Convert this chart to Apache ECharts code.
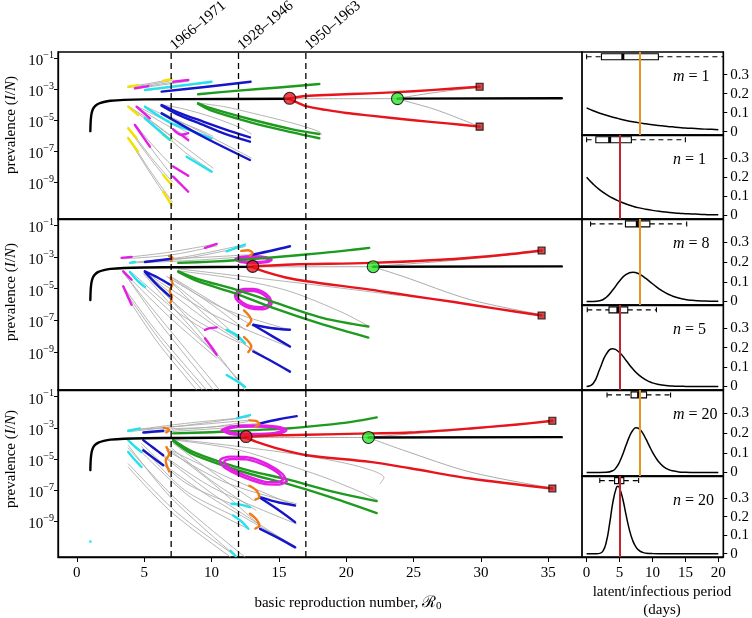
<!DOCTYPE html>
<html><head><meta charset="utf-8">
<script src="https://cdn.jsdelivr.net/npm/echarts@6/dist/echarts.min.js"></script>
<style>html,body{margin:0;padding:0;background:#fff}#c{width:752px;height:618px}</style>
</head><body><div id="c"></div>
<script>
// ---------- tick labels / categories ----------
const R0_TICKS = [0,5,10,15,20,25,30,35];
const PREV_TICKS = [-1,-3,-5,-7,-9];
const DAY_TICKS = [0,5,10,15,20];
const DENS_TICKS = [0,0.1,0.2,0.3];
const PERIOD_LABELS = ['1966–1971','1928–1946','1950–1963'];
const PERIOD_R0 = [7,12,17];
const PANEL_LABELS = [['m','1'],['n','1'],['m','8'],['n','5'],['m','20'],['n','20']];
const MEAN_LATENT = 8, MEAN_INFECT = 5;

// ---------- equilibrium (black) rise, [R0, log10 prevalence] ----------
const blackRise = [[1.0,-5.72],[1.02,-5.2],[1.05,-4.85],[1.1,-4.55],[1.2,-4.28],[1.35,-4.1],[1.6,-3.95],[2.0,-3.84],[2.5,-3.76],[3.5,-3.7],[5,-3.67],[8,-3.65]];

// ---------- panel 1 (top) ----------
const p1Hopf = [[15.8,-3.6]], p1Fold = [[23.8,-3.62]], p1Ends = [[29.9,-2.85],[29.9,-5.43]];
const p1BlackLow = blackRise.concat([[15.8,-3.63]]);
const p1BlackHigh = [[23.8,-3.62],[36.0,-3.6]];
const p1Unstable = [[15.8,-3.63],[23.8,-3.62]];
const p1Red = [
 [[15.8,-3.6],[17,-3.45],[19,-3.37],[21.8,-3.28],[25,-3.14],[27.5,-3.0],[29.9,-2.85]],
 [[15.8,-3.65],[16.3,-3.85],[17.06,-4.12],[18.5,-4.35],[20,-4.55],[21.8,-4.72],[25,-5.02],[27.5,-5.22],[29.9,-5.43]]];
const p1FoldGrey = [
 [[23.8,-3.6],[26,-3.3],[28,-3.07],[29.9,-2.88]],
 [[23.8,-3.63],[24.5,-3.8],[26.7,-4.35],[29.9,-5.43]]];
const p1Yellow = [
 [[3.81,-2.85],[4.55,-2.76]],[[6.41,-2.46],[7.03,-2.37]],
 [[3.81,-4.14],[4.55,-4.68]],[[6.41,-5.97],[7.03,-6.29]],
 [[3.81,-5.54],[4.43,-6.18]],[[6.41,-8.55],[7.03,-9.19]],
 [[3.81,-6.18],[4.55,-7.05]],[[6.41,-9.63],[7.03,-10.48]]];
const p1Magenta = [
 [[4.31,-2.95],[5.3,-2.81]],[[7.15,-2.53],[8.27,-2.42]],
 [[4.43,-4.14],[5.42,-4.89]],
 [[7.15,-5.6],[7.75,-5.95],[8.27,-5.85]],[[7.75,-5.95],[8.27,-6.3]],
 [[4.31,-5.32],[5.42,-6.72]],
 [[7.15,-8.0],[8.27,-8.6]],[[7.15,-8.66],[8.27,-9.63]]];
const p1Cyan = [
 [[5.05,-3.06],[7.5,-2.8],[10.0,-2.53]],
 [[5.05,-4.14],[6.9,-5.15],[8.5,-5.7],[10.0,-6.18]],
 [[5.05,-4.89],[6.91,-6.29]],
 [[8.15,-7.37],[10.0,-8.34]]];
const p1Blue = [
 [[6.29,-3.17],[9.5,-2.87],[12.9,-2.53]],
 [[6.29,-4.03],[7.5,-4.5],[9.38,-5.1],[11,-5.6],[12.85,-6.12]],
 [[6.29,-4.08],[7.5,-4.65],[9.38,-5.32],[11,-5.9],[12.85,-6.4]],
 [[6.29,-4.57],[9.38,-6.08],[12.85,-7.58]]];
const p1Green = [
 [[9.0,-3.34],[12,-3.1],[15,-2.9],[18.0,-2.68]],
 [[9.0,-3.92],[10,-4.25],[13.1,-5.0],[16,-5.6],[18,-5.9]],
 [[9.0,-3.95],[10,-4.4],[13.1,-5.2],[16,-5.8],[18,-6.18]]];
const p1Grey = [
 [[3.81,-2.85],[5.5,-2.62],[7.03,-2.37]],[[3.81,-2.9],[5.5,-2.7],[7.03,-2.45]],
 [[4.31,-2.95],[6.2,-2.68],[8.27,-2.42]],[[4.31,-3.0],[6.2,-2.75],[8.27,-2.5]],
 [[5.05,-3.1],[7.5,-2.85],[10.0,-2.58]],
 [[3.81,-4.14],[5.5,-5.2],[7.03,-6.29]],[[3.81,-4.1],[5.5,-5.05],[7.1,-6.1]],
 [[3.81,-5.54],[5.5,-7.55],[7.03,-9.19]],[[3.81,-5.45],[5.5,-7.4],[7.1,-9.0]],
 [[3.81,-6.18],[5.5,-8.5],[7.03,-10.48]],[[3.81,-6.1],[5.5,-8.35],[7.1,-10.3]],
 [[4.43,-4.14],[6,-5.0],[8.27,-6.1]],[[4.43,-4.1],[6.5,-5.0],[8.3,-5.85]],
 [[4.31,-5.25],[5.5,-6.5],[7.15,-8.0],[8.27,-8.6]],[[4.31,-5.35],[5.42,-6.72],[7.15,-8.66],[8.27,-9.63]],
 [[5.05,-4.1],[7,-4.9],[9,-5.6],[10.1,-6.05]],
 [[5.05,-4.85],[7,-6.3],[8.2,-7.2],[10.05,-8.3]],[[5.05,-4.8],[7.2,-6.2],[10.1,-8.1]],
 [[6.29,-4.0],[8,-4.3],[10,-4.8],[12,-5.45],[12.95,-5.9]],
 [[6.29,-4.5],[9.4,-5.85],[12.95,-7.45]],
 [[9.0,-3.9],[11,-4.15],[13.1,-4.57],[16,-5.2],[18,-5.75],[18.15,-5.95]]];

// ---------- panel 2 (middle) ----------
const p2Hopf = [[13.05,-3.6]], p2Fold = [[22.0,-3.62]], p2Ends = [[34.5,-2.6],[34.5,-6.7]];
const p2BlackLow = blackRise.concat([[13.05,-3.63]]);
const p2BlackHigh = [[22.0,-3.62],[36.0,-3.6]];
const p2Unstable = [[13.05,-3.63],[22.0,-3.62]];
const p2Red = [
 [[13.05,-3.6],[16,-3.48],[21.8,-3.38],[28,-3.13],[31.7,-2.87],[34.5,-2.6]],
 [[13.05,-3.65],[14,-3.95],[15.5,-4.3],[17.06,-4.54],[21.77,-5.07],[24.74,-5.45],[28,-5.85],[31,-6.25],[34.5,-6.7]]];
const p2FoldGrey = [
 [[22.0,-3.6],[28,-3.22],[34.5,-2.65]],
 [[22.0,-3.63],[24.2,-4.23],[29.2,-5.7],[34.5,-6.65]]];
const p2Magenta = [
 [[3.32,-3.06],[4.06,-3.0]],[[9.51,-2.43],[10.38,-2.18]],
 [[11.74,-3.17],[12.1,-3.02],[13.1,-2.96],[14.1,-3.03],[14.46,-3.18],[14.1,-3.33],[13.1,-3.39],[12.1,-3.31],[11.74,-3.17]],
 [[11.9,-3.17],[12.2,-3.07],[13.1,-3.03],[14.0,-3.09],[14.3,-3.18],[14.0,-3.28],[13.1,-3.32],[12.2,-3.26],[11.9,-3.17]],
 [[3.44,-3.91],[4.06,-4.44]],[[3.44,-4.86],[4.06,-6.02]],
 [[14.46,-5.95],[14.3,-5.55],[13.8,-5.2],[13.1,-5.03],[12.4,-5.03],[11.9,-5.2],[11.74,-5.45],[11.95,-5.8],[12.5,-6.12],[13.1,-6.28],[13.8,-6.3],[14.3,-6.15],[14.46,-5.95]],
 [[14.3,-5.9],[14.1,-5.55],[13.7,-5.3],[13.1,-5.15],[12.5,-5.15],[12.05,-5.28],[11.9,-5.47],[12.1,-5.75],[12.6,-6.03],[13.1,-6.15],[13.7,-6.17],[14.15,-6.05],[14.3,-5.9]],
 [[9.51,-7.6],[9.9,-7.5],[10.38,-7.45]],[[9.51,-8.13],[10.0,-8.7],[10.38,-9.18]]];
const p2Cyan = [
 [[3.94,-3.38],[4.31,-3.32]],[[11.12,-2.65],[12.48,-2.22]],
 [[3.94,-3.95],[4.5,-4.5],[5.05,-4.9]],
 [[11.12,-7.6],[11.8,-7.9],[12.48,-8.44]],
 [[11.12,-10.45],[11.8,-10.8],[12.48,-11.2]]];
const p2Blue = [
 [[5.05,-3.32],[6.91,-3.13]],[[13.1,-2.85],[14.5,-2.6],[15.82,-2.33]],
 [[5.05,-3.91],[6,-4.3],[6.91,-4.75]],[[5.05,-3.95],[6,-4.8],[6.91,-5.49]],
 [[13.1,-7.28],[14.5,-7.5],[15.82,-7.6]],[[13.1,-7.3],[14.5,-8.0],[15.82,-8.66]],
 [[13.1,-8.97],[14.5,-9.6],[15.82,-10.24]]];
const p2Orange = [
 [[6.85,-2.95],[7.1,-3.05],[7.0,-3.25]],
 [[12.2,-2.62],[12.7,-2.58],[13.05,-2.75],[12.85,-2.92]],
 [[6.95,-4.3],[7.1,-4.7],[6.9,-5.15],[7.05,-5.55],[6.95,-5.9]],
 [[12.41,-6.38],[12.95,-7.0],[12.65,-7.35]],
 [[12.41,-8.06],[12.95,-8.65],[12.73,-9.0]]];
const p2Green = [
 [[7.53,-3.38],[10,-3.3],[12,-3.2],[14.46,-3.04],[18.3,-2.75],[20.5,-2.55],[21.7,-2.43]],
 [[7.53,-3.91],[9,-4.4],[11.74,-5.05],[14.46,-5.81],[18.3,-6.86],[21.64,-7.39]],
 [[7.53,-3.95],[9,-4.55],[11.74,-5.3],[14.46,-6.19],[18.3,-7.28],[21.64,-8.09]]];
const p2Grey = [
 [[3.32,-3.06],[6.5,-2.75],[10.38,-2.18]],[[3.4,-3.12],[7,-2.88],[10.4,-2.3]],
 [[3.94,-3.35],[8,-3.0],[12.48,-2.22]],[[4.0,-3.4],[8,-3.1],[12.5,-2.35]],
 [[6.91,-3.13],[10,-3.0],[13.1,-2.85]],[[5.0,-3.36],[9,-3.2],[13.1,-2.95]],
 [[3.42,-3.9],[6,-7],[10.13,-11.4]],[[3.44,-4.0],[6.5,-7.2],[10.6,-11.4]],
 [[3.44,-4.86],[6,-7.8],[9.63,-11.4]],[[3.69,-5.49],[6,-8.4],[8.89,-11.4]],
 [[3.6,-5.2],[6.3,-8.4],[9.3,-11.4]],
 [[4.0,-4.1],[7,-6.5],[10.38,-9.18]],[[4.0,-4.4],[7,-6.9],[10.4,-9.4]],
 [[4.1,-4.0],[7.5,-6.5],[9.5,-7.6]],
 [[4.93,-4.05],[8,-7],[12.48,-11.2]],[[5.05,-4.01],[9,-7.6],[12.48,-11.4]],
 [[5.05,-4.1],[8.5,-6.8],[12.1,-8.44]],
 [[5.05,-4.0],[10,-7.2],[15.82,-10.24]],[[5.05,-3.95],[10,-6.6],[15.82,-8.7]],
 [[6.66,-4.23],[11,-6.3],[15.82,-7.6]],
 [[6.9,-4.2],[10,-5.8],[13.1,-7.39]],[[6.9,-4.5],[10,-6.6],[13.1,-9.0]],
 [[7.0,-4.3],[10,-6.0],[12.5,-7.6]],[[7.0,-4.6],[10,-7.0],[12.5,-8.4]],
 [[7.53,-3.88],[10,-4.15],[12.1,-4.44],[15.82,-5.18],[19.54,-6.44],[21.3,-7.2],[21.7,-7.4]],
 [[7.53,-3.75],[12,-4.2],[17,-4.7],[22.5,-5.28],[24,-5.45]]];

// ---------- panel 3 (bottom) ----------
const p3Hopf = [[12.56,-3.56]], p3Fold = [[21.65,-3.62]], p3Ends = [[35.3,-2.55],[35.3,-6.9]];
const p3BlackLow = blackRise.concat([[12.56,-3.63]]);
const p3BlackHigh = [[21.65,-3.62],[36.0,-3.6]];
const p3Unstable = [[12.56,-3.63],[21.65,-3.62]];
const p3Red = [
 [[12.56,-3.58],[15,-3.48],[17.06,-3.45],[21.77,-3.36],[24.74,-3.3],[29.2,-3.04],[32.5,-2.8],[35.3,-2.55]],
 [[12.56,-3.65],[13.5,-3.95],[15,-4.35],[17.06,-4.76],[21.77,-5.19],[24.74,-5.6],[29.2,-6.26],[35.3,-6.9]]];
const p3FoldGrey = [
 [[21.65,-3.6],[28,-3.17],[35.3,-2.6]],
 [[21.65,-3.63],[24.24,-4.44],[29.2,-5.84],[35.3,-6.88]]];
const p3Cyan = [
 [[3.81,-3.19],[4.68,-3.04]],[[11.86,-2.39],[12.85,-2.18]],
 [[3.81,-3.79],[4.3,-4.2],[4.8,-4.55]],[[3.81,-4.55],[4.3,-5.05],[4.8,-5.52]],
 [[11.49,-7.88],[12.2,-7.95],[12.85,-8.1]],[[11.6,-8.63],[12.2,-9.0],[12.73,-9.49]],
 [[11.4,-10.9],[11.8,-11.25]]];
const p3CyanDot = [[1.0,-10.3]];
const p3Blue = [
 [[4.93,-3.3],[6.41,-3.19]],[[13.6,-2.72],[15,-2.45],[16.32,-2.25]],
 [[4.93,-3.79],[5.7,-4.3],[6.41,-4.76]],[[4.93,-4.44],[5.7,-4.95],[6.41,-5.41]],
 [[13.6,-7.45],[15,-7.8],[16.2,-7.99]],[[13.6,-7.5],[15,-8.3],[16.2,-9.06]],
 [[13.6,-9.49],[15,-10.1],[16.2,-10.68]]];
const p3Orange = [
 [[6.45,-3.0],[6.85,-3.1],[6.65,-3.3]],
 [[12.8,-2.52],[13.3,-2.56],[13.55,-2.75],[13.25,-2.92]],
 [[6.65,-4.23],[6.85,-4.7],[6.6,-5.1],[6.85,-5.8]],
 [[12.8,-6.72],[13.3,-7.0],[13.55,-7.45],[13.25,-7.62]],
 [[12.85,-8.52],[13.35,-8.9],[13.55,-9.3],[13.25,-9.47]]];
const p3Green = [
 [[7.15,-3.36],[10,-3.28],[13,-3.15],[15.58,-3.04],[18.3,-2.83],[20.5,-2.6],[22.26,-2.33]],
 [[7.15,-3.79],[8.5,-4.5],[10.62,-5.19],[13,-5.8],[15.58,-6.3],[19,-7.1],[22.26,-7.71]],
 [[7.15,-3.85],[8.5,-4.65],[10.62,-5.35],[13,-6.0],[15.58,-6.59],[19,-7.5],[22.26,-8.48]]];
const p3Magenta = [
 [[10.75,-3.15],[11.4,-2.93],[13.15,-2.85],[14.9,-2.93],[15.55,-3.15],[14.9,-3.4],[13.15,-3.47],[11.4,-3.4],[10.75,-3.15]],
 [[11.0,-3.15],[11.6,-2.98],[13.15,-2.92],[14.7,-2.98],[15.3,-3.15],[14.7,-3.33],[13.15,-3.4],[11.6,-3.33],[11.0,-3.15]],
 [[15.58,-6.45],[15.3,-6.0],[14.6,-5.55],[13.7,-5.15],[12.6,-4.88],[11.4,-4.85],[10.62,-5.1],[10.9,-5.5],[11.8,-5.95],[12.9,-6.35],[14.0,-6.62],[15.0,-6.65],[15.58,-6.45]],
 [[15.3,-6.35],[15.05,-6.0],[14.45,-5.62],[13.6,-5.28],[12.6,-5.03],[11.5,-5.0],[10.95,-5.15],[11.2,-5.5],[12.0,-5.88],[13.0,-6.22],[14.0,-6.47],[14.9,-6.5],[15.3,-6.35]]];
const p3Grey = [
 [[3.81,-3.19],[8,-2.72],[11.86,-2.39]],[[3.81,-3.25],[8,-2.85],[12.8,-2.3]],
 [[4.7,-3.1],[9,-2.8],[12.85,-2.5]],[[6.41,-3.19],[10,-2.95],[13.6,-2.72]],
 [[5.0,-3.35],[9.5,-3.1],[13.6,-2.85]],[[7,-3.05],[10,-2.95],[12.7,-2.6]],
 [[3.81,-4.12],[7,-7.5],[11.6,-11.1]],[[3.81,-4.3],[7.5,-7.7],[12.48,-11.3]],
 [[3.81,-5.52],[7,-8.4],[11.4,-11.3]],[[3.81,-5.3],[7.5,-8.5],[11.9,-11.3]],
 [[4.8,-4.0],[8,-6.5],[11.49,-7.88]],[[4.8,-4.2],[8,-7],[11.6,-8.63]],
 [[4.8,-4.55],[8.5,-7.5],[12.73,-9.49]],
 [[4.93,-3.8],[10,-7.2],[16.3,-10.7]],[[4.93,-3.85],[10,-6.8],[16.3,-9.17]],
 [[4.93,-4.4],[10,-7.5],[16.2,-10.6]],
 [[6.66,-4.44],[11,-6.5],[16.3,-7.88]],[[6.66,-4.3],[11,-6.1],[16.2,-8.0]],
 [[7.15,-4.0],[10,-5.8],[13.1,-7.66]],[[7.0,-4.5],[10,-6.5],[13.6,-9.3]],
 [[6.9,-4.2],[10,-6.4],[13.3,-8.3]],
 [[7.15,-3.77],[10,-4.1],[12.1,-4.44],[15,-5.2],[18.3,-6.16],[21,-7.1],[22.3,-7.65]],
 [[7.15,-3.72],[12,-4.2],[17,-4.8],[21,-5.5],[22.8,-6.2],[22.5,-6.6]]];

// ---------- right panels: densities (days) ----------
const DAY_STEPS = [0,1,2,3,4,5,6,7,8,9,10,11,12,13,14,15,16,17,18,19,20];
const densM1 = [0.125,0.110,0.097,0.086,0.076,0.067,0.059,0.052,0.046,0.041,0.036,0.032,0.028,0.025,0.022,0.019,0.017,0.015,0.013,0.012,0.010];
const densN1 = [0.200,0.164,0.134,0.110,0.090,0.074,0.060,0.049,0.040,0.033,0.027,0.022,0.018,0.015,0.012,0.010,0.008,0.007,0.005,0.004,0.004];
const densM8 = [0,0.0001,0.0034,0.0216,0.0595,0.1044,0.1377,0.149,0.1396,0.1171,0.0901,0.0646,0.0437,0.0281,0.0174,0.0104,0.0060,0.0034,0.0019,0.0010,0.0005];
const densN5 = [0,0.0153,0.0902,0.168,0.195,0.175,0.134,0.0912,0.0573,0.0337,0.0189,0.0102,0.0053,0.0027,0.0013,0.0006,0.0003,0.0001,0,0,0];
const densM20 = [[0,0],[2,0],[3,0.0005],[4,0.0093],[4.5,0.025],[5,0.0531],[5.5,0.0931],[6,0.1394],[6.5,0.1827],[7,0.2139],[7.5,0.2274],[8,0.222],[8.5,0.2015],[9,0.1708],[9.5,0.1368],[10,0.1038],[10.5,0.0752],[11,0.0521],[11.5,0.0347],[12,0.0224],[12.5,0.0139],[13,0.0084],[14,0.0028],[15,0.0009],[16,0.0002],[18,0],[20,0]];
const densN20 = [[0,0],[1.5,0],[2,0.0016],[2.5,0.0149],[3,0.0645],[3.5,0.1635],[4,0.2797],[4.5,0.3545],[4.75,0.364],[5,0.3553],[5.5,0.2941],[6,0.208],[6.5,0.1287],[7,0.0712],[7.5,0.0358],[8,0.0165],[8.5,0.0071],[9,0.0028],[10,0.0004],[12,0],[20,0]];
// box stats: [low whisker, q1, median, q3, high whisker]
const boxM1 = [0,2.25,5.5,10.9,25];
const boxN1 = [0,1.4,3.5,6.8,15];
const boxM8 = [0.6,5.9,7.7,9.6,15.2];
const boxN5 = [0.1,3.4,4.75,6.25,10.6];
const boxM20 = [3.1,6.75,7.9,9.1,12.75];
const boxN20 = [2.0,4.25,5.0,5.65,7.9];

// ---------- build ----------
const FONT = "'Liberation Serif','DejaVu Serif',serif";
const C = {yellow:'#F3E200', magenta:'#E41EE4', cyan:'#22E2EE', blue:'#1616C8', green:'#1E9A1E', orange:'#F07A14', red:'#E8141C', grey:'#ABABAB', latent:'#E8951E', infect:'#C2262C'};
const Y_RANGE = [[-11.39,-0.61],[-11.4,-0.61],[-11.3,-0.57]];
const LEFT_TOPS = [52,219,390], LEFT_H = [167,171,167];
const RIGHT_TOPS = [52,135,219,305,390,476], RIGHT_BOT = [135,219,305,390,476,557];
const BOX_Y = 0.395;

const grid = [], xAxis = [], yAxis = [], series = [];
for (let i=0;i<3;i++){
  grid.push({left:58, top:LEFT_TOPS[i], width:524, height:LEFT_H[i], show:true, borderColor:'#000', borderWidth:1.3});
  xAxis.push({gridIndex:i, type:'value', position:'bottom', min:-1.4, max:37.5, axisLine:{show:true, onZero:false, lineStyle:{color:'#000', width:1.3}}, splitLine:{show:false},
    axisTick:{show:i===2, customValues:R0_TICKS, length:5, lineStyle:{color:'#000', width:1}},
    axisLabel:{show:i===2, customValues:R0_TICKS, fontSize:15, fontFamily:FONT, color:'#000', margin:9}});
  yAxis.push({gridIndex:i, type:'value', position:'left', min:Y_RANGE[i][0], max:Y_RANGE[i][1], axisLine:{show:true, onZero:false, lineStyle:{color:'#000', width:1.3}}, splitLine:{show:false},
    axisTick:{show:true, customValues:PREV_TICKS, length:4, lineStyle:{color:'#000', width:1}},
    axisLabel:{customValues:PREV_TICKS, margin:4, formatter:v=>'{b|10}{s|−'+(-v)+'}',
      rich:{b:{fontSize:15, fontFamily:FONT, color:'#000', lineHeight:16, padding:[6,0,0,0]},
            s:{fontSize:10, fontFamily:FONT, color:'#000', lineHeight:10, verticalAlign:'top'}}}});
}
for (let j=0;j<6;j++){
  const gi = 3+j;
  grid.push({left:582, top:RIGHT_TOPS[j], width:143, height:RIGHT_BOT[j]-RIGHT_TOPS[j], show:true, borderColor:'#000', borderWidth:1.3});
  xAxis.push({gridIndex:gi, type:'value', position:'bottom', min:-0.7, max:20.75, axisLine:{show:true, onZero:false, lineStyle:{color:'#000', width:1.3}}, splitLine:{show:false},
    axisTick:{show:j===5, customValues:DAY_TICKS, length:5, lineStyle:{color:'#000'}},
    axisLabel:{show:j===5, customValues:DAY_TICKS, fontSize:15, fontFamily:FONT, color:'#000', margin:9}});
  yAxis.push({gridIndex:gi, type:'value', position:'right', min:-0.018, max:0.42, axisLine:{show:true, onZero:false, lineStyle:{color:'#000', width:1.3}}, splitLine:{show:false},
    axisTick:{show:true, customValues:DENS_TICKS, length:4, lineStyle:{color:'#000'}},
    axisLabel:{customValues:DENS_TICKS, fontSize:15, fontFamily:FONT, color:'#000', margin:7, formatter:v=>v===0?'0':v.toFixed(1)}});
}

function paths(g, list, color, width, z){
  list.forEach(p=>series.push({type:'line', xAxisIndex:g, yAxisIndex:g, data:p, symbol:'none', smooth:0.3, clip:true, silent:true, animation:false,
    lineStyle:{color, width, cap:'round', join:'round'}, z}));
}
function dots(g, data, symbol, size, color, z){
  series.push({type:'scatter', xAxisIndex:g, yAxisIndex:g, data, symbol, symbolSize:size, silent:true, animation:false,
    itemStyle:{color, borderColor:'#000', borderWidth:1.1}, z});
}
const panels = [
 {grey:p1Grey, fg:p1FoldGrey, un:p1Unstable, cols:[[p1Yellow,C.yellow],[p1Magenta,C.magenta],[p1Cyan,C.cyan],[p1Blue,C.blue],[p1Green,C.green]], red:p1Red, bl:p1BlackLow, bh:p1BlackHigh, hopf:p1Hopf, fold:p1Fold, ends:p1Ends},
 {grey:p2Grey, fg:p2FoldGrey, un:p2Unstable, cols:[[p2Magenta,C.magenta],[p2Cyan,C.cyan],[p2Blue,C.blue],[p2Green,C.green],[p2Orange,C.orange]], red:p2Red, bl:p2BlackLow, bh:p2BlackHigh, hopf:p2Hopf, fold:p2Fold, ends:p2Ends},
 {grey:p3Grey, fg:p3FoldGrey, un:p3Unstable, cols:[[p3Cyan,C.cyan],[p3Blue,C.blue],[p3Green,C.green],[p3Magenta,C.magenta],[p3Orange,C.orange]], red:p3Red, bl:p3BlackLow, bh:p3BlackHigh, hopf:p3Hopf, fold:p3Fold, ends:p3Ends}
];
panels.forEach((P,i)=>{
  paths(i, P.grey, C.grey, 0.9, 2);
  paths(i, P.fg, C.grey, 1, 2);
  paths(i, [P.un], C.grey, 1, 2);
  P.cols.forEach(([list,col])=>paths(i, list, col, 2.4, 3));
  paths(i, P.red, C.red, 2.4, 4);
  paths(i, [P.bl, P.bh], '#000', 2.4, 4);
  PERIOD_R0.forEach(r=>series.push({type:'line', xAxisIndex:i, yAxisIndex:i, data:[[r,Y_RANGE[i][0]],[r,Y_RANGE[i][1]]], symbol:'none', silent:true, animation:false,
    lineStyle:{color:'#000', width:1.3, type:[6,4]}, z:5}));
  dots(i, P.hopf, 'circle', 12, C.red, 6);
  dots(i, P.fold, 'circle', 12, '#2EE62E', 6);
  dots(i, P.ends, 'rect', 7, '#C41E1E', 6);
});
dots(2, p3CyanDot, 'circle', 3, C.cyan, 3);
series[series.length-1].itemStyle.borderWidth = 0;

const densities = [DAY_STEPS.map((d,k)=>[d,densM1[k]]), DAY_STEPS.map((d,k)=>[d,densN1[k]]), DAY_STEPS.map((d,k)=>[d,densM8[k]]), DAY_STEPS.map((d,k)=>[d,densN5[k]]), densM20, densN20];
const boxes = [boxM1, boxN1, boxM8, boxN5, boxM20, boxN20];
function boxRender(params, api){
  const X = v=>api.coord([v,BOX_Y])[0];
  const y = api.coord([0,BOX_Y])[1];
  const lo=X(api.value(0)), q1=X(api.value(1)), md=X(api.value(2)), q3=X(api.value(3)), hi=X(api.value(4));
  const ls = {stroke:'#000', lineWidth:1.1};
  return {type:'group', children:[
    {type:'line', shape:{x1:lo,y1:y,x2:q1,y2:y}, style:Object.assign({lineDash:[5,4]},ls)},
    {type:'line', shape:{x1:q3,y1:y,x2:hi,y2:y}, style:Object.assign({lineDash:[5,4]},ls)},
    {type:'line', shape:{x1:lo,y1:y-2.5,x2:lo,y2:y+2.5}, style:ls},
    {type:'line', shape:{x1:hi,y1:y-2.5,x2:hi,y2:y+2.5}, style:ls},
    {type:'rect', shape:{x:q1,y:y-3,width:q3-q1,height:6}, style:{fill:'#fff', stroke:'#000', lineWidth:1.1}},
    {type:'line', shape:{x1:md,y1:y-3,x2:md,y2:y+3}, style:{stroke:'#000', lineWidth:3}}
  ]};
}
for (let j=0;j<6;j++){
  const gi=3+j, isM = j%2===0;
  series.push({type:'custom', xAxisIndex:gi, yAxisIndex:gi, data:[boxes[j]], encode:{x:[0,1,2,3,4]}, renderItem:boxRender, clip:true, silent:true, animation:false, z:2});
  series.push({type:'line', xAxisIndex:gi, yAxisIndex:gi, data:densities[j], symbol:'none', smooth:true, clip:true, silent:true, animation:false,
    lineStyle:{color:'#000', width:1.5}, z:3,
    markLine:{silent:true, symbol:'none', animation:false, label:{show:false}, lineStyle:{color:isM?C.latent:C.infect, width:2, type:'solid'}, data:[{xAxis:isM?MEAN_LATENT:MEAN_INFECT}]}});
}

const chart = echarts.init(document.getElementById('c'), null, {renderer:'canvas'});
chart.setOption({backgroundColor:'#fff', animation:false, grid, xAxis, yAxis, series});

const graphic = [];
PERIOD_R0.forEach((r,i)=>{
  const p = chart.convertToPixel({gridIndex:0}, [r, Y_RANGE[0][1]]);
  graphic.push({type:'text', x:p[0]+6, y:p[1]+1, rotation:40*Math.PI/180, silent:true,
    style:{text:PERIOD_LABELS[i], fontSize:15, fontFamily:FONT, fill:'#000', align:'left', verticalAlign:'bottom'}});
});
[125,292,459].forEach(cy=>graphic.push({type:'text', x:11, y:cy, rotation:Math.PI/2, silent:true,
  style:{text:'prevalence ({i|I}/{i|N})', fontSize:15, fontFamily:FONT, fill:'#000', align:'center', verticalAlign:'middle',
    rich:{i:{fontStyle:'italic', fontSize:15, fontFamily:FONT, fill:'#000'}}}}));
graphic.push({type:'text', x:348, y:603, silent:true,
  style:{text:'basic reproduction number, {r|ℛ}{sub|0}', fontSize:15, fontFamily:FONT, fill:'#000', align:'center', verticalAlign:'middle',
    rich:{r:{fontSize:16, fontFamily:FONT, fill:'#000', lineHeight:18}, sub:{fontSize:11, fontFamily:FONT, fill:'#000', lineHeight:10, verticalAlign:'bottom'}}}});
graphic.push({type:'text', x:662, y:592, silent:true, style:{text:'latent/infectious period', fontSize:15, fontFamily:FONT, fill:'#000', align:'center', verticalAlign:'middle'}});
graphic.push({type:'text', x:662, y:610, silent:true, style:{text:'(days)', fontSize:15, fontFamily:FONT, fill:'#000', align:'center', verticalAlign:'middle'}});
PANEL_LABELS.forEach(([v,n],j)=>graphic.push({type:'text', x:673, y:RIGHT_TOPS[j]+25, silent:true,
  style:{text:'{i|'+v+'} = '+n, fontSize:16, fontFamily:FONT, fill:'#000', align:'left', verticalAlign:'middle',
    rich:{i:{fontStyle:'italic', fontSize:16, fontFamily:FONT, fill:'#000'}}}}));
chart.setOption({graphic});
</script></body></html>
